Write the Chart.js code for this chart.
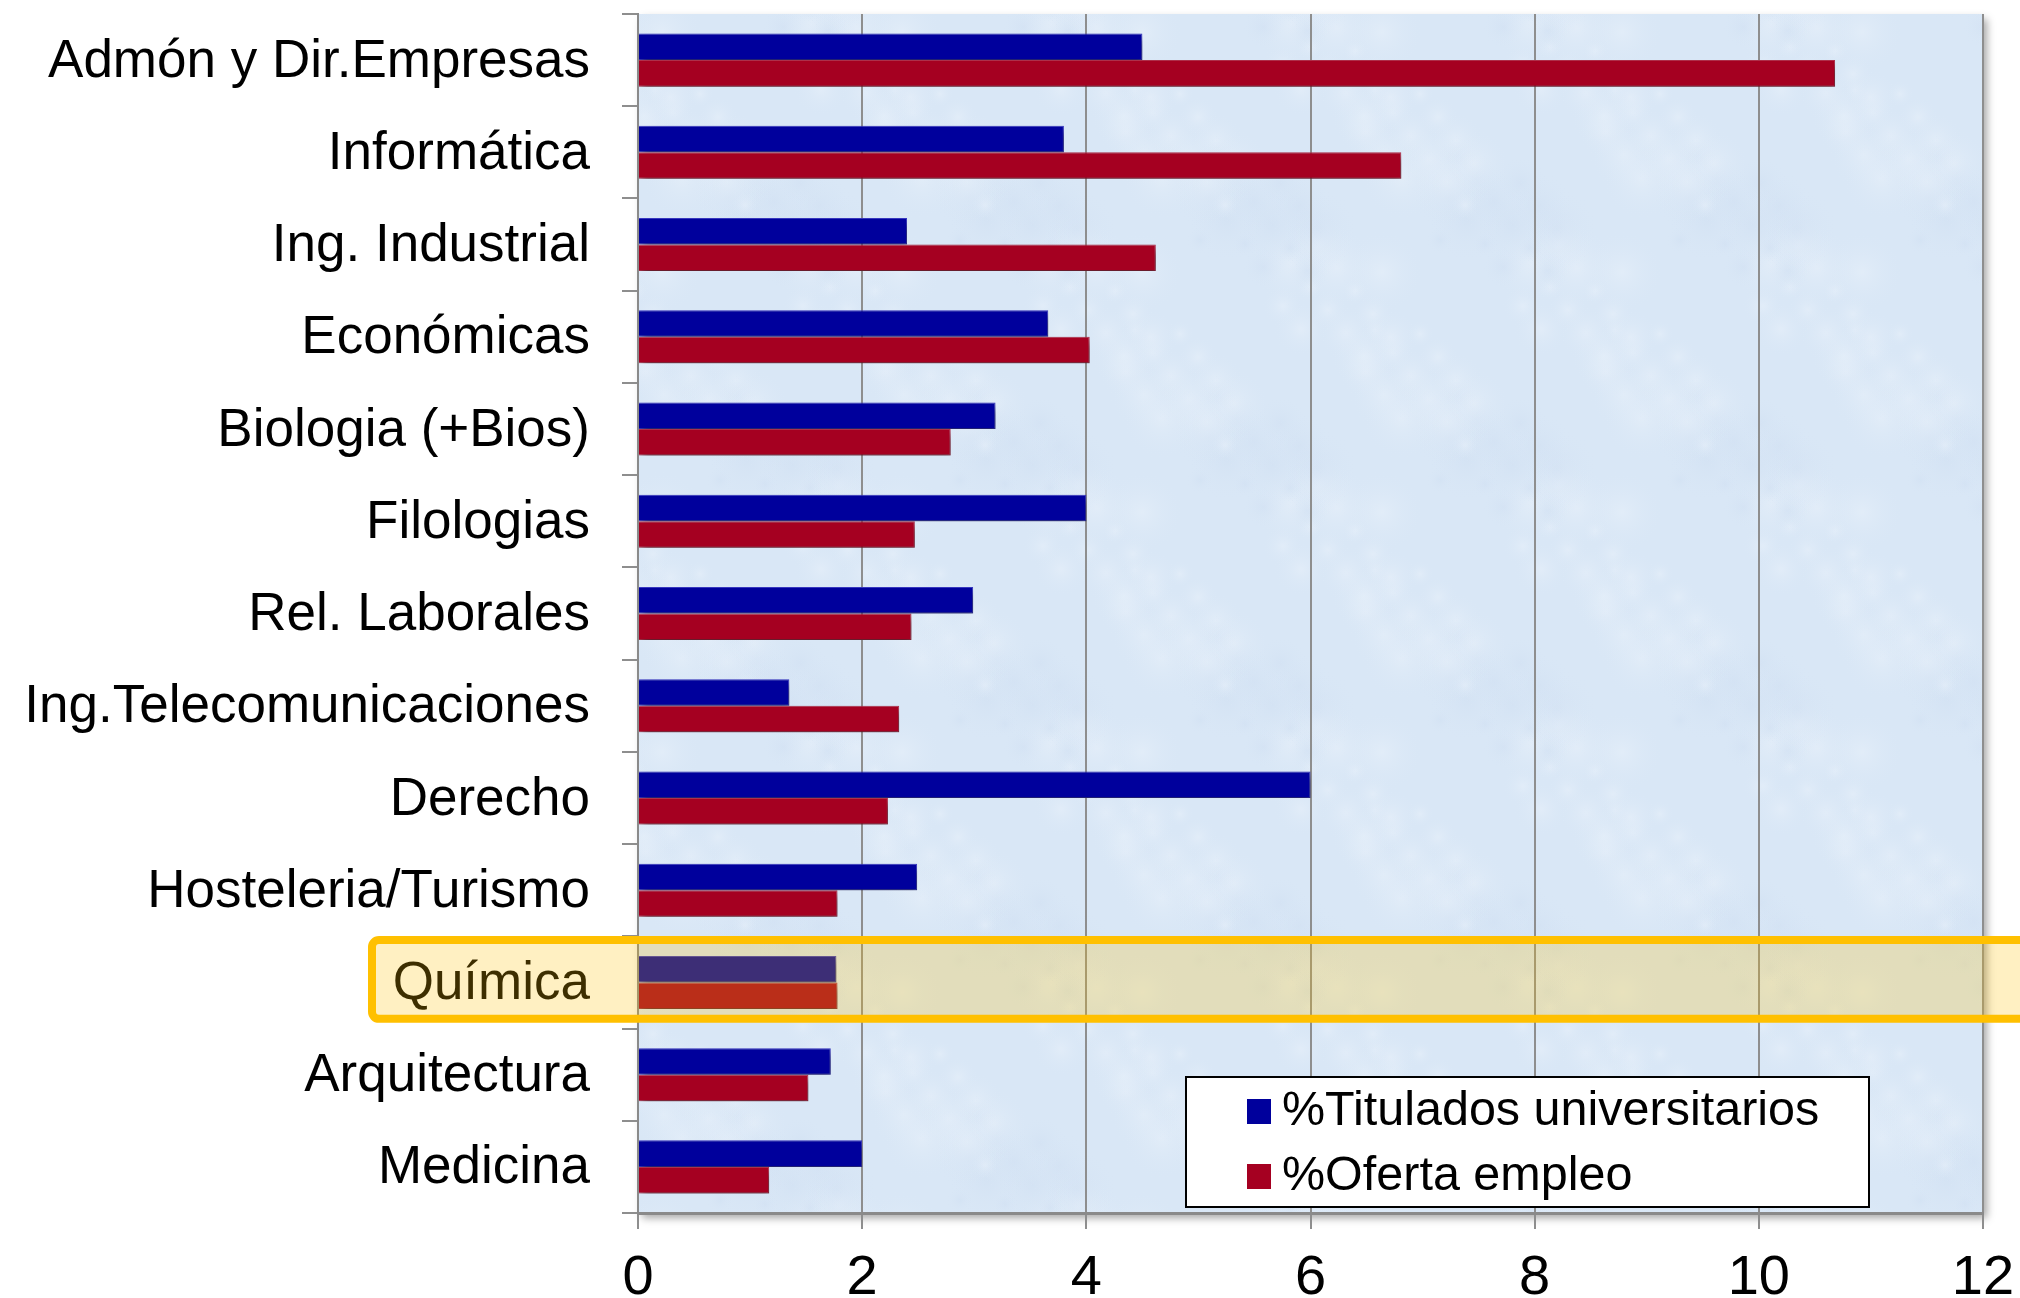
<!DOCTYPE html>
<html lang="es">
<head>
<meta charset="UTF-8">
<title>Titulados y oferta de empleo</title>
<script src="https://cdn.jsdelivr.net/npm/chart.js"></script>
<style>
    html, body { margin: 0; padding: 0; background: #fff; overflow: hidden; }
    #caja { width: 2020px; height: 1298px; }
</style>
</head>
<body>
<div id="caja">
    <canvas id="grafico" width="2020" height="1298"></canvas>
</div>
<script>
    // datos
    var carreras = ['Admón y Dir.Empresas', 'Informática', 'Ing. Industrial', 'Económicas', 'Biologia (+Bios)',
        'Filologias', 'Rel. Laborales', 'Ing.Telecomunicaciones', 'Derecho', 'Hosteleria/Turismo',
        'Química', 'Arquitectura', 'Medicina'];
    var titulados = [4.5, 3.8, 2.4, 3.66, 3.19, 4.0, 2.99, 1.35, 6.0, 2.49, 1.77, 1.72, 2.0];
    var oferta = [10.68, 6.81, 4.62, 4.03, 2.79, 2.47, 2.44, 2.33, 2.23, 1.78, 1.78, 1.52, 1.17];
    var ticksX = [0, 2, 4, 6, 8, 10, 12];
    var nombresSeries = ['%Titulados universitarios', '%Oferta empleo'];
    var coloresSeries = ['#00009c', '#a50021'];
    var destacada = 'Química';

    var fuente = "'Liberation Sans', Arial, sans-serif";

    // textura suave tipo papel para el fondo (manchas fijas, sin costuras)
    function textura(ctx) {
        var n = 240;
        var t = document.createElement('canvas');
        t.width = n; t.height = n;
        var c = t.getContext('2d');
        c.fillStyle = '#d9e7f6';
        c.fillRect(0, 0, n, n);
        for (var i = 0; i < 40; i++) {
            var x0 = (i * 83) % n, y0 = (i * 47 + (i % 7) * 19) % n;
            var r = 14 + (i % 5) * 7;
            for (var dx = -n; dx <= n; dx += n) {
                for (var dy = -n; dy <= n; dy += n) {
                    var x = x0 + dx, y = y0 + dy;
                    var g = c.createRadialGradient(x, y, 0, x, y, r);
                    g.addColorStop(0, i % 3 ? 'rgba(236,243,251,0.45)' : 'rgba(205,221,241,0.4)');
                    g.addColorStop(1, 'rgba(217,231,246,0)');
                    c.fillStyle = g;
                    c.fillRect(x - r, y - r, 2 * r, 2 * r);
                }
            }
        }
        return ctx.createPattern(t, 'repeat');
    }

    // fondo azul del area de trazado con su sombra
    var fondo = {
        id: 'fondo',
        beforeDraw: function (chart) {
            var ctx = chart.ctx, a = chart.chartArea;
            ctx.save();
            ctx.fillStyle = '#fff';
            ctx.fillRect(0, 0, chart.width, chart.height);
            ctx.shadowColor = 'rgba(0,0,0,0.35)';
            ctx.shadowBlur = 8;
            ctx.shadowOffsetX = 4;
            ctx.shadowOffsetY = 5;
            ctx.fillStyle = '#d9e7f6';
            ctx.fillRect(a.left, a.top, a.right - a.left, a.bottom - a.top);
            ctx.shadowColor = 'rgba(0,0,0,0)';
            ctx.fillStyle = textura(ctx);
            ctx.fillRect(a.left, a.top, a.right - a.left, a.bottom - a.top);
            ctx.restore();
        }
    };

    // sombra de las barras
    var sombra = {
        id: 'sombra',
        beforeDatasetsDraw: function (chart) {
            var ctx = chart.ctx;
            ctx.save();
            ctx.shadowColor = 'rgba(0,0,0,0.5)';
            ctx.shadowBlur = 8;
            ctx.shadowOffsetX = 3;
            ctx.shadowOffsetY = 5;
        },
        afterDatasetsDraw: function (chart) {
            chart.ctx.restore();
        }
    };

    // recuadro naranja sobre Quimica
    var resaltado = {
        id: 'resaltado',
        afterDraw: function (chart) {
            var ctx = chart.ctx, y = chart.scales.y;
            var i = carreras.indexOf(destacada);
            var c = y.getPixelForValue(i);
            var banda = y.getPixelForValue(1) - y.getPixelForValue(0);
            var arriba = c - 0.46 * banda, abajo = c + 0.395 * banda;
            var izq = 372, der = chart.width + 20;
            ctx.save();
            ctx.beginPath();
            ctx.roundRect(izq, arriba, der - izq, abajo - arriba, 7);
            ctx.fillStyle = 'rgba(255,192,0,0.24)';
            ctx.fill();
            ctx.lineWidth = 8;
            ctx.strokeStyle = '#ffc000';
            ctx.stroke();
            ctx.restore();
        }
    };

    // leyenda dentro del grafico
    var leyenda = {
        id: 'leyenda',
        afterDraw: function (chart) {
            var ctx = chart.ctx, a = chart.chartArea;
            var ancho = 683, alto = 130;
            var x = a.right - 114 - ancho, y = a.bottom - 6 - alto;
            ctx.save();
            ctx.fillStyle = '#fff';
            ctx.fillRect(x, y, ancho, alto);
            ctx.lineWidth = 2;
            ctx.strokeStyle = '#000';
            ctx.strokeRect(x, y, ancho, alto);
            ctx.font = '48.5px ' + fuente;
            ctx.textBaseline = 'middle';
            chart.data.datasets.forEach(function (ds, k) {
                var cy = y + 34 + k * 65;
                ctx.fillStyle = ds.backgroundColor;
                ctx.fillRect(x + 61, cy - 12, 24, 25);
                ctx.fillStyle = '#000';
                ctx.fillText(ds.label, x + 96, cy + 1);
            });
            ctx.restore();
        }
    };

    new Chart(document.getElementById('grafico'), {
        type: 'bar',
        data: {
            labels: carreras,
            datasets: [{
                label: nombresSeries[0],
                data: titulados,
                backgroundColor: coloresSeries[0],
                borderColor: '#3a3ac8',
                borderWidth: 1,
                categoryPercentage: 0.575,
                barPercentage: 1
            }, {
                label: nombresSeries[1],
                data: oferta,
                backgroundColor: coloresSeries[1],
                borderColor: '#b8324e',
                borderWidth: 1,
                categoryPercentage: 0.575,
                barPercentage: 1
            }]
        },
        options: {
            indexAxis: 'y',
            responsive: false,
            animation: false,
            layout: { padding: { top: 14, right: 37, left: 0, bottom: 0 } },
            plugins: {
                legend: { display: false },
                tooltip: { enabled: false }
            },
            scales: {
                x: {
                    min: ticksX[0],
                    max: ticksX[ticksX.length - 1],
                    afterBuildTicks: function (s) {
                        s.ticks = ticksX.map(function (v) { return { value: v }; });
                    },
                    ticks: {
                        font: { size: 56, family: fuente },
                        color: '#000',
                        padding: 16,
                        maxRotation: 0,
                        autoSkip: false
                    },
                    grid: { color: '#8e8e8e', lineWidth: 2, tickLength: 16 },
                    border: { color: '#8a8a8a', width: 3 },
                    afterFit: function (s) {
                        s.height = 85;
                        s.paddingLeft = 0;
                        s.paddingRight = 0;
                    }
                },
                y: {
                    ticks: {
                        font: { size: 53, family: fuente },
                        color: '#000',
                        padding: 32,
                        labelOffset: 2,
                        autoSkip: false
                    },
                    grid: { drawOnChartArea: false, color: '#8e8e8e', lineWidth: 2, tickLength: 16, offset: true },
                    border: { color: '#8a8a8a', width: 2 },
                    afterFit: function (s) {
                        s.width = 638;
                        s.paddingTop = 0;
                        s.paddingBottom = 0;
                    }
                }
            }
        },
        plugins: [fondo, sombra, resaltado, leyenda]
    });
</script>
</body>
</html>
